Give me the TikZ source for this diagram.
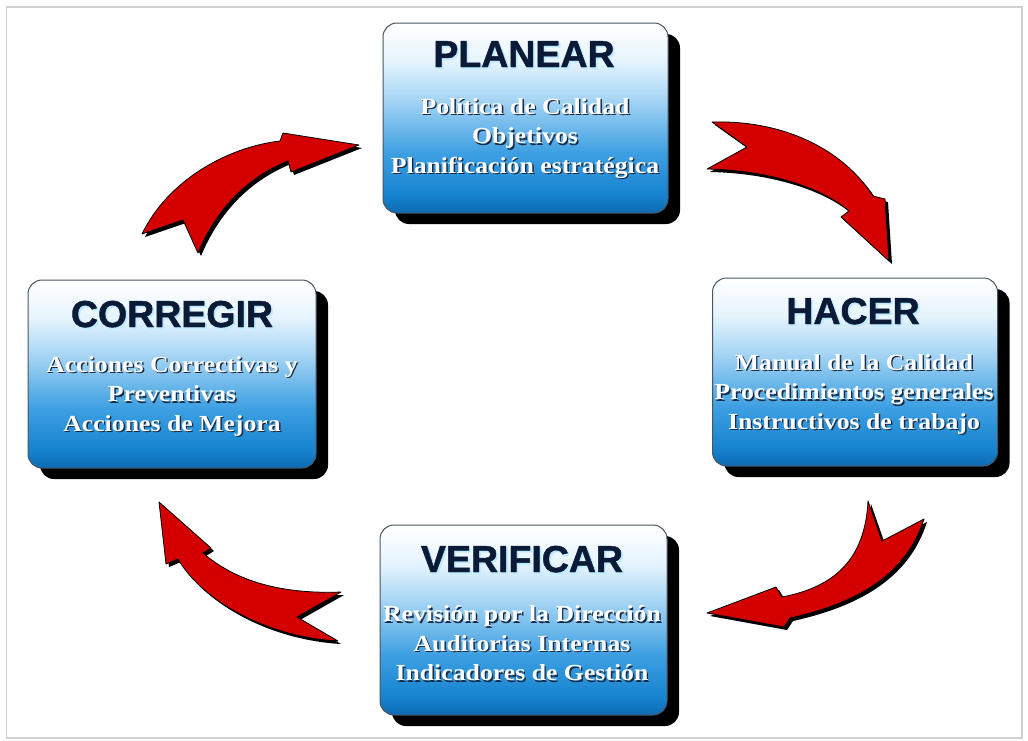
\documentclass[tikz,border=0pt]{standalone}
\usepackage{fontspec}
\usetikzlibrary{shadows}
\newfontfamily\titlefont{Liberation Sans}[FakeBold=1.2]
\newfontfamily\bodyfont{Liberation Serif}[FakeStretch=1.12]
\definecolor{navy}{HTML}{0B1A36}
\definecolor{glow}{HTML}{BDEBFF}
\definecolor{txtsh}{HTML}{1B2B45}
\definecolor{bord}{HTML}{4A5560}
\definecolor{arrred}{HTML}{D40000}
\definecolor{frame}{HTML}{D0D0D0}
\definecolor{b0}{HTML}{0E6AB4}
\definecolor{b1}{HTML}{1784D0}
\definecolor{b2}{HTML}{3EA0E2}
\definecolor{b3}{HTML}{A6D5F4}
\definecolor{b4}{HTML}{E6F4FD}
\pgfdeclareverticalshading{boxshade}{100bp}{color(0bp)=(b0); color(25bp)=(b0); color(30bp)=(b1); color(41bp)=(b2); color(55bp)=(b3); color(65bp)=(b4); color(75bp)=(white); color(100bp)=(white)}
\newcommand\sht[1]{\makebox[0pt][l]{\kern1.4pt\raisebox{-1.4pt}{\textcolor{txtsh}{#1}}}\textcolor{white}{#1}}
\newcommand\ttl[1]{\makebox[0pt][l]{\kern1.8pt\raisebox{-1.8pt}{\textcolor{glow}{#1}}}\textcolor{navy}{#1}}
\def\arrowA{(712,122) -- (747,147) -- (707,169) .. controls (765,170) and (820,186) .. (849,211) -- (841,217) -- (889,261) -- (885,199) -- (873,196) .. controls (842,148) and (782,120) .. cycle}
\def\arrowB{(868,501) -- (882,541) -- (924,519) .. controls (907,572) and (862,602) .. (790,618) -- (784,627) -- (707,613) -- (776,587) -- (782,597) .. controls (834,587) and (865,560) .. cycle}
\def\arrowC{(159,502) -- (211,548) -- (203,553) .. controls (240,585) and (290,594) .. (341,592) -- (297,617) -- (338,641) .. controls (268,637) and (203,602) .. (178,559) -- (166,564) -- cycle}
\def\arrowD{(142,234) -- (183,220) -- (198,253) .. controls (216,210) and (246,178) .. (288,161) -- (291,172) -- (359,145) -- (283,133) -- (280,141) .. controls (228,147) and (168,180) .. cycle}
\begin{document}
\begin{tikzpicture}[x=1pt,y=-1pt,
  box/.style={rectangle, rounded corners=14pt, draw=bord, line width=1pt, shade, shading=boxshade,
    general shadow={fill=black, shadow xshift=12pt, shadow yshift=-11pt, rounded corners=14pt}, inner sep=0pt},
  ttltxt/.style={font=\titlefont\bfseries\fontsize{37.5}{42}\selectfont, inner sep=0pt},
  bodytxt/.style={align=center, font=\bodyfont\bfseries\fontsize{23}{29.5}\selectfont, inner sep=0pt},
  arrsh/.style={fill=black, shift={(3,3)}},
  arrbody/.style={fill=arrred, draw=black, line width=0.8pt, line join=round}]
\useasboundingbox (0,0) rectangle (1028,740);
\fill[white] (0,0) rectangle (1028,740);
\draw[frame, line width=1.5pt] (6.5,7) rectangle (1022,738);

% arrows
\fill[arrsh] \arrowA; \filldraw[arrbody] \arrowA;
\fill[arrsh] \arrowB; \filldraw[arrbody] \arrowB;
\fill[arrsh] \arrowC; \filldraw[arrbody] \arrowC;
\fill[arrsh] \arrowD; \filldraw[arrbody] \arrowD;

% boxes
\node[box, minimum width=285pt, minimum height=190pt] (planear) at (525.5,118) {};
\node[box, minimum width=285pt, minimum height=188pt] (hacer) at (855,372) {};
\node[box, minimum width=288pt, minimum height=188pt] (corregir) at (172,374) {};
\node[box, minimum width=287pt, minimum height=190pt] (verificar) at (523.5,620) {};

% titles
\node[ttltxt] (planear-t) at (524,55) {\ttl{PLANEAR}};
\node[ttltxt] (hacer-t) at (853,312) {\ttl{HACER}};
\node[ttltxt] (corregir-t) at (172,315) {\ttl{CORREGIR}};
\node[ttltxt] (verificar-t) at (522,560) {\ttl{VERIFICAR}};

% bodies
\node[bodytxt] (planear-b) at (525,139) {\sht{Política de Calidad}\\\sht{Objetivos}\\\sht{Planificación estratégica}};
\node[bodytxt] (hacer-b) at (854,395) {\sht{Manual de la Calidad}\\\sht{Procedimientos generales}\\\sht{Instructivos de trabajo}};
\node[bodytxt] (corregir-b) at (172,397) {\sht{Acciones Correctivas y}\\\sht{Preventivas}\\\sht{Acciones de Mejora}};
\node[bodytxt] (verificar-b) at (522,644) {\sht{Revisión por la Dirección}\\\sht{Auditorias Internas}\\\sht{Indicadores de Gestión}};
\end{tikzpicture}
\end{document}
